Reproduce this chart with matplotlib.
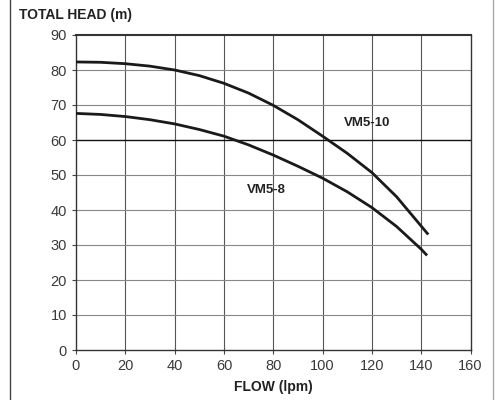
import matplotlib
matplotlib.use("Agg")
import matplotlib.pyplot as plt
from matplotlib.lines import Line2D

plt.rcParams['font.family'] = ['Liberation Sans', 'DejaVu Sans']

# pump curves
flow_10 = [0, 10, 20, 30, 40, 50, 60, 70, 80, 90, 100, 110, 120, 130, 140, 142.5]
head_10 = [82.3, 82.2, 81.8, 81.1, 80.0, 78.4, 76.2, 73.4, 69.9, 65.8, 61.1, 56.2, 50.7, 43.8, 35.4, 33.3]

flow_8 = [0, 10, 20, 30, 40, 50, 60, 70, 80, 90, 100, 110, 120, 130, 140, 142]
head_8 = [67.6, 67.3, 66.7, 65.8, 64.6, 63.0, 61.1, 58.6, 55.7, 52.5, 49.1, 45.2, 40.7, 35.3, 28.8, 27.3]

x_ticks = [0, 20, 40, 60, 80, 100, 120, 140, 160]
y_ticks = [0, 10, 20, 30, 40, 50, 60, 70, 80, 90]

fig = plt.figure(figsize=(5, 4), dpi=100)
ax = fig.add_axes([0.152, 0.125, 0.789, 0.7875])

ax.set_xlim(0, 160)
ax.set_ylim(0, 90)
ax.set_xticks(x_ticks)
ax.set_yticks(y_ticks)
ax.tick_params(labelsize=10.5, labelcolor='#3a3a3a', length=3, color='#444444')

for v in x_ticks[1:-1]:
    ax.axvline(v, color='#555555', lw=0.8, zorder=1)
for v in y_ticks[1:-1]:
    if v == 60:
        ax.axhline(v, color='#111111', lw=1.0, zorder=1)
    else:
        ax.axhline(v, color='#888888', lw=0.8, zorder=1)

for s in ax.spines.values():
    s.set_color('#333333')
    s.set_linewidth(1.0)
ax.spines['top'].set_linewidth(1.5)

ax.plot(flow_10, head_10, color='#1a1a1a', lw=2.0, zorder=3, solid_joinstyle='round')
ax.plot(flow_8, head_8, color='#1a1a1a', lw=2.0, zorder=3, solid_joinstyle='round')

ax.text(118, 64.9, 'VM5-10', ha='center', va='center', fontsize=9.5,
        fontweight='bold', color='#222222')
ax.text(77, 45.7, 'VM5-8', ha='center', va='center', fontsize=9.5,
        fontweight='bold', color='#222222')

fig.text(0.038, 0.962, 'TOTAL HEAD (m)', ha='left', va='center', fontsize=10,
         fontweight='bold', color='#222222')
fig.text(0.546, 0.032, 'FLOW (lpm)', ha='center', va='center', fontsize=10,
         fontweight='bold', color='#222222')

# outer frame lines
fig.add_artist(Line2D([0.019, 0.019], [0, 1], transform=fig.transFigure,
                      color='#444444', lw=1.0))
fig.add_artist(Line2D([0.986, 0.986], [0, 1], transform=fig.transFigure,
                      color='#aaaaaa', lw=1.0))

fig.savefig('out.png', dpi=100)
